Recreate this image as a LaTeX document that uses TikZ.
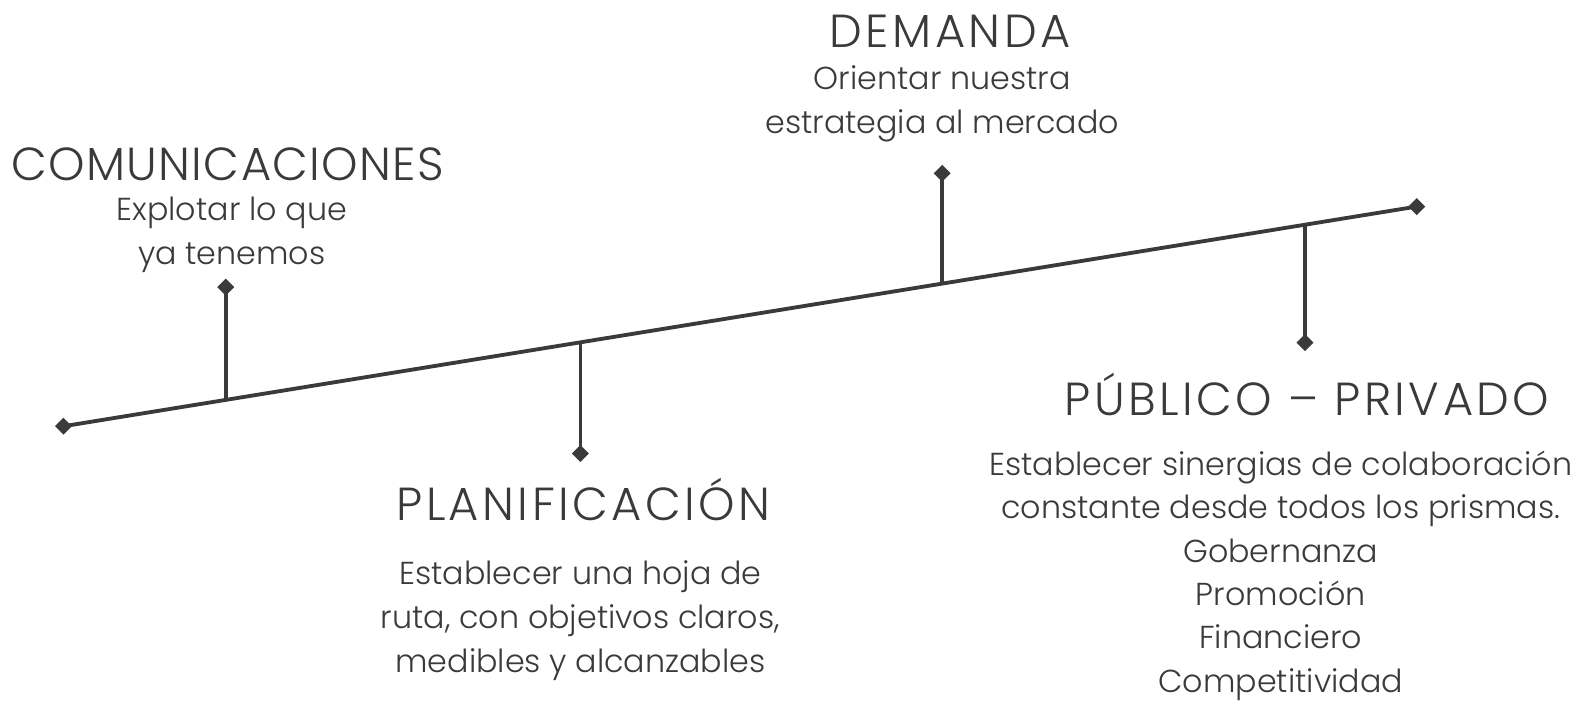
\documentclass[tikz,border=0pt]{standalone}
\usepackage{fontspec}
\setmainfont{Poppins}[UprightFont=* Light]
\usetikzlibrary{shapes.geometric}
\definecolor{ink}{HTML}{3A3A3A}
\begin{document}
\begin{tikzpicture}[x=1pt,y=-1pt,
  dot/.style={diamond,fill=ink,inner sep=0pt,minimum size=17pt},
  bar/.style={draw=ink,line width=3.8pt},
  title/.style={text=ink,font=\fontsize{46}{50}\selectfont\addfontfeatures{LetterSpace=7.5},inner sep=0pt,anchor=base},
  titlenarrow/.style={title,font=\fontsize{46}{50}\selectfont\addfontfeatures{LetterSpace=3}},
  body/.style={text=ink,font=\fontsize{31.5}{43.6}\selectfont,inner sep=0pt,align=center,anchor=base}]
\useasboundingbox (0,0) rectangle (1567,696);
% main line
\node[dot] (L) at (63,423) {};
\node[dot] (R) at (1406,205) {};
\draw[bar] (L.center) -- (R.center);
% stems
\coordinate (s1) at (224,396.9);
\coordinate (s2) at (576,339.7);
\coordinate (s3) at (935,281.5);
\coordinate (s4) at (1295,223.0);
\node[dot] (d1) at (224,285) {};
\node[dot] (d2) at (576,450) {};
\node[dot] (d3) at (935,172) {};
\node[dot] (d4) at (1295,340) {};
\draw[bar] (s1) -- (d1.center);
\draw[bar] (s2) -- (d2.center);
\draw[bar] (s3) -- (d3.center);
\draw[bar] (s4) -- (d4.center);
% texts (body nodes are anchored at the baseline of their last line)
\node[titlenarrow] (t1) at (226,179) {COMUNICACIONES};
\node[body] (b1) at (230,262) {Explotar lo que\\ya tenemos};
\node[title] (t3) at (943,47) {DEMANDA};
\node[body] (b3) at (935,132) {Orientar nuestra\\estrategia al mercado};
\node[title] (t2) at (579,517) {PLANIFICACIÓN};
\node[body] (b2) at (576,667) {Establecer una hoja de\\ruta, con objetivos claros,\\medibles y alcanzables};
\node[title] (t4) at (1297,412) {PÚBLICO – PRIVADO};
\node[body,font=\fontsize{31.5}{43}\selectfont] (b4) at (1271,687) {Establecer sinergias de colaboración\\constante desde todos los prismas.\\Gobernanza\\Promoción\\Financiero\\Competitividad};
\end{tikzpicture}
\end{document}
